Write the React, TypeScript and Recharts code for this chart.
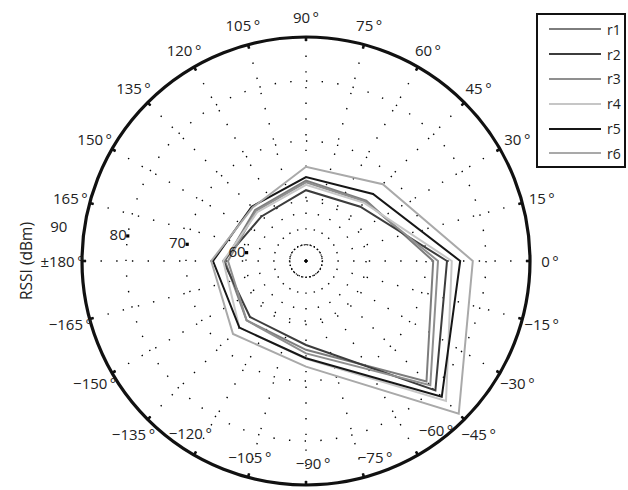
import { RadarChart, Radar, PolarGrid, PolarAngleAxis, PolarRadiusAxis, Legend } from 'recharts';

// measured directions (deg, counter-clockwise from 0) and RSSI per run
const ANGLES = [0, 45, 90, 135, 180, 225, 270, 315];
const R1 = [71.2, 64.2, 63.4, 62.0, 63.5, 64.0, 64.8, 78.4];
const R2 = [73.5, 62.8, 61.8, 60.5, 63.8, 63.2, 64.0, 80.5];
const R3 = [72.0, 64.0, 63.1, 61.8, 63.0, 64.0, 65.4, 79.3];
const R4 = [74.3, 63.7, 62.7, 61.5, 63.8, 65.7, 66.3, 83.0];
const R5 = [75.7, 65.8, 64.0, 62.8, 65.5, 65.7, 66.2, 82.0];
const R6 = [77.8, 68.1, 65.7, 62.6, 65.8, 67.2, 67.6, 86.0];

const ANGLE_TICKS = [0, 15, 30, 45, 60, 75, 90, 105, 120, 135, 150, 165, 180, 195, 210, 225, 240, 255, 270, 285, 300, 315, 330, 345];
const ANGLE_LABELS = [
  '0', '15', '30', '45', '60', '75', '90', '105', '120', '135', '150', '165',
  '±180', '−165', '−150', '−135', '−120', '−105', '−90', '−75', '−60', '−45', '−30', '−15',
];
const RADIUS_TICKS = [60, 70, 80, 90];
const RINGS = [52.7, 60, 70, 80];

const SERIES = [
  { key: 'r1', values: R1, color: '#7d7d7d' },
  { key: 'r2', values: R2, color: '#3c3c3c' },
  { key: 'r3', values: R3, color: '#8f8f8f' },
  { key: 'r4', values: R4, color: '#c6c6c6' },
  { key: 'r5', values: R5, color: '#161616' },
  { key: 'r6', values: R6, color: '#a9a9a9' },
];

const W = 628;
const H = 490;
const CX = 306;
const CY = 261;
const R_OUT = 224;
const R_MIN = 50;
const PX_PER_DB = 6;
const R_MAX = R_MIN + R_OUT / PX_PER_DB;
const LABEL_R = 244;
const FONT = '"Open Sans", "DejaVu Sans", sans-serif';

// bottom labels were pulled inside the circle in the original figure
const LABEL_SHIFT: Record<number, [number, number]> = {
  240: [207, -124],
  255: [204, -106],
  270: [202, -88],
  285: [208, -70.6],
  300: [213, -52.4],
};

const data = ANGLES.map((deg, i) => {
  const row: any = { deg };
  SERIES.forEach(s => {
    row[s.key] = s.values[i];
  });
  return row;
});

const ringRadii = RINGS.map(v => (v - R_MIN) * PX_PER_DB);

function AngleTick(props: any) {
  const deg = Number(props.payload?.value ?? 0);
  const key = Math.round(((deg % 360) + 360) % 360);
  const idx = ANGLE_TICKS.indexOf(key);
  const shift = LABEL_SHIFT[key];
  const r = shift ? shift[0] : LABEL_R;
  const a = ((shift ? shift[1] : key) * Math.PI) / 180;
  return (
    <text
      x={CX + r * Math.cos(a)}
      y={CY - r * Math.sin(a)}
      textAnchor="middle"
      dominantBaseline="central"
      fontSize={15}
      fontFamily={FONT}
      fill="#222"
    >
      {(idx >= 0 ? ANGLE_LABELS[idx] : String(key)) + '\u2009°'}
    </text>
  );
}

function RadiusTick(props: any) {
  const { x, y, payload } = props;
  const v = payload?.value;
  return (
    <g>
      {v < R_MAX && <rect x={x - 1.6} y={y - 1.6} width={3.2} height={3.2} fill="#000" />}
      <text x={x - 1} y={y - 2} textAnchor="end" dominantBaseline="central" fontSize={15} fontFamily={FONT} fill="#222">
        {v}
      </text>
    </g>
  );
}

function LegendBox(props: any) {
  const items = props.payload || [];
  return (
    <div style={{ border: '2px solid #111', background: '#fff', width: 90, padding: '2px 0 0 0', boxSizing: 'border-box' }}>
      {items.map((it: any) => (
        <div key={it.value} style={{ display: 'flex', alignItems: 'center', height: 24.8 }}>
          <svg width={64} height={10} style={{ display: 'block' }}>
            <line x1={11} x2={63} y1={5} y2={5} stroke={it.color} strokeWidth={2} />
          </svg>
          <span style={{ fontFamily: FONT, fontSize: 14, color: '#222', marginLeft: 5 }}>{it.value}</span>
        </div>
      ))}
    </div>
  );
}

export default function App() {
  return (
    <div style={{ position: 'absolute', left: 0, top: 0, width: W, height: H, background: '#fff' }}>
      <RadarChart
        width={W}
        height={H}
        data={data}
        cx={CX}
        cy={CY}
        innerRadius={0}
        outerRadius={R_OUT}
        startAngle={0}
        endAngle={360}
        margin={{ top: 0, right: 0, bottom: 0, left: 0 }}
      >
        <PolarGrid
          gridType="circle"
          polarRadius={ringRadii.slice(1)}
          stroke="#000"
          strokeWidth={1.4}
          strokeDasharray="1.4 14.3"
        />
        <PolarGrid
          gridType="circle"
          radialLines={false}
          polarRadius={ringRadii.slice(0, 1)}
          stroke="#000"
          strokeWidth={1.2}
          strokeDasharray="1.2 2.3"
        />
        <PolarAngleAxis
          dataKey="deg"
          type="number"
          domain={[0, 360]}
          ticks={ANGLE_TICKS}
          axisLineType="circle"
          axisLine={{ stroke: '#111', strokeWidth: 3.2 }}
          tickLine={{ stroke: '#111', strokeWidth: 2.6 }}
          tickSize={4}
          orientation="inner"
          tick={<AngleTick />}
        />
        <PolarRadiusAxis
          angle={172}
          type="number"
          domain={[R_MIN, R_MAX]}
          ticks={RADIUS_TICKS}
          allowDataOverflow
          axisLine={false}
          tickLine={false}
          tick={<RadiusTick />}
        />
        {SERIES.map(s => (
          <Radar
            key={s.key}
            name={s.key}
            dataKey={s.key}
            stroke={s.color}
            strokeWidth={2}
            fill="none"
            fillOpacity={0}
            dot={false}
            isAnimationActive={false}
          />
        ))}
        <Legend
          layout="vertical"
          align="right"
          verticalAlign="top"
          content={<LegendBox />}
          wrapperStyle={{ position: 'absolute', left: 536, top: 13, width: 90 }}
        />
      </RadarChart>
      <div
        style={{
          position: 'absolute',
          left: 26,
          top: 261,
          transform: 'translate(-50%, -50%) rotate(-90deg)',
          fontFamily: FONT,
          fontSize: 15.5,
          color: '#222',
          whiteSpace: 'nowrap',
        }}
      >
        RSSI (dBm)
      </div>
    </div>
  );
}
